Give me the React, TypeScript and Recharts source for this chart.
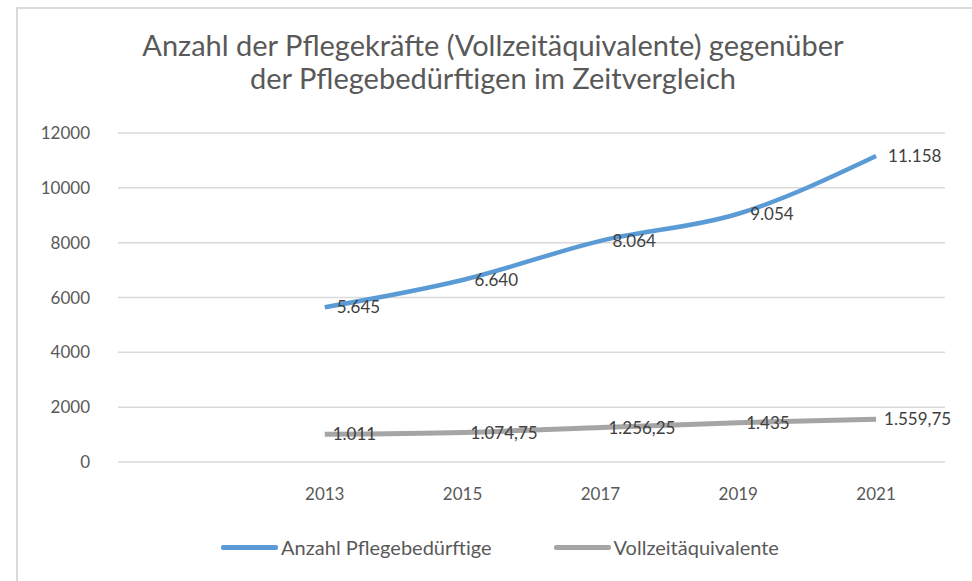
import { LineChart, Line, XAxis, YAxis, CartesianGrid, LabelList } from "recharts";

const years = ["", "2013", "2015", "2017", "2019", "2021"];
const pflegebeduerftige = [null, 5645, 6640, 8064, 9054, 11158];
const vollzeitaequivalente = [null, 1011, 1074.75, 1256.25, 1435, 1559.75];
const yTicks = [0, 2000, 4000, 6000, 8000, 10000, 12000];

const seriesNames = ["Anzahl Pflegebedürftige", "Vollzeitäquivalente"];
const seriesColors = ["#5B9BD5", "#A5A5A5"];

const data = years.map((year, i) => ({
    year,
    pflege: pflegebeduerftige[i],
    vza: vollzeitaequivalente[i],
}));

// German number format: 1.074,75
function formatDe(v: any) {
    if (v === null || v === undefined) return "";
    const [int, dec] = String(v).split(".");
    const grouped = int.replace(/\B(?=(\d{3})+(?!\d))/g, ".");
    return dec ? `${grouped},${dec}` : grouped;
}

const font = "Lato, 'Open Sans', sans-serif";
const labelStyle = { fill: "#404040", fontSize: 17, fontFamily: font };

export default function App() {
    return (
        <div
            style={{
                position: "absolute",
                left: 0,
                top: 0,
                width: 972,
                height: 581,
                background: "#fff",
                overflow: "hidden",
                fontFamily: font,
            }}
        >
            <div
                style={{
                    position: "absolute",
                    left: 16,
                    top: 7,
                    width: 980,
                    height: 600,
                    border: "2px solid #DADADA",
                    boxSizing: "border-box",
                }}
            />
            <div
                style={{
                    position: "absolute",
                    left: 0,
                    top: 28,
                    width: 986,
                    textAlign: "center",
                    fontSize: 29,
                    lineHeight: "33px",
                    color: "#595959",
                }}
            >
                Anzahl der Pflegekräfte (Vollzeitäquivalente) gegenüber
                <br />
                der Pflegebedürftigen im Zeitvergleich
            </div>
            <LineChart
                width={972}
                height={581}
                data={data}
                margin={{ top: 133, right: 27, left: 18, bottom: 79 }}
                style={{ position: "absolute", left: 0, top: 0 }}
            >
                <CartesianGrid vertical={false} stroke="#D9D9D9" strokeWidth={1.5} />
                <XAxis
                    dataKey="year"
                    scale="band"
                    axisLine={false}
                    tickLine={false}
                    tick={{ fill: "#595959", fontSize: 17, fontFamily: font }}
                    tickMargin={20}
                    height={40}
                />
                <YAxis
                    domain={[0, 12000]}
                    ticks={yTicks}
                    axisLine={false}
                    tickLine={false}
                    width={100}
                    tick={{ fill: "#595959", fontSize: 17, fontFamily: font }}
                    tickMargin={22}
                />
                <Line
                    name={seriesNames[0]}
                    dataKey="pflege"
                    type="monotone"
                    stroke={seriesColors[0]}
                    strokeWidth={4.5}
                    dot={false}
                    isAnimationActive={false}
                >
                    <LabelList
                        dataKey="pflege"
                        position="right"
                        offset={12}
                        formatter={formatDe}
                        style={labelStyle}
                    />
                </Line>
                <Line
                    name={seriesNames[1]}
                    dataKey="vza"
                    type="monotone"
                    stroke={seriesColors[1]}
                    strokeWidth={5}
                    dot={false}
                    isAnimationActive={false}
                >
                    <LabelList
                        dataKey="vza"
                        position="right"
                        offset={8}
                        formatter={formatDe}
                        style={labelStyle}
                    />
                </Line>
            </LineChart>
            <div
                style={{
                    position: "absolute",
                    left: 0,
                    top: 533,
                    width: 1000,
                    display: "flex",
                    justifyContent: "center",
                    gap: 62,
                    fontSize: 20,
                    color: "#595959",
                    lineHeight: "28px",
                }}
            >
                {seriesNames.map((name, i) => (
                    <div key={name} style={{ display: "flex", alignItems: "center" }}>
                        <span
                            style={{
                                display: "inline-block",
                                width: 57,
                                height: 5,
                                background: seriesColors[i],
                                marginRight: 3,
                                borderRadius: 2,
                            }}
                        />
                        {name}
                    </div>
                ))}
            </div>
        </div>
    );
}
